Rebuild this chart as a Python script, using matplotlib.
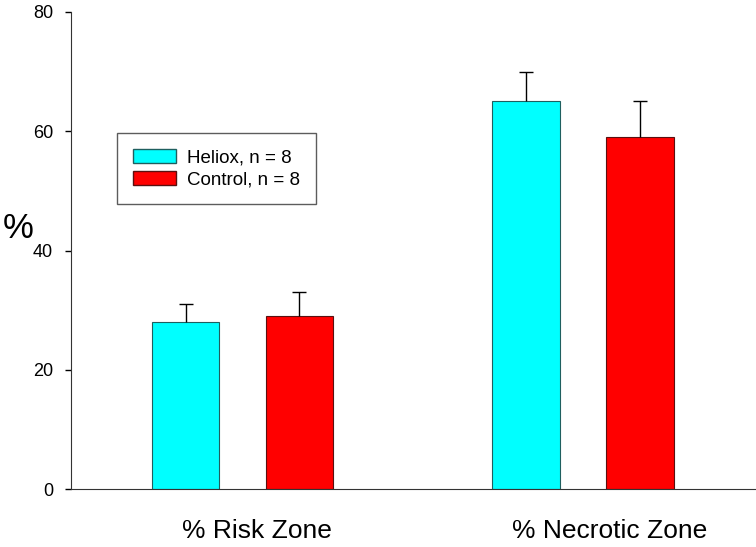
import numpy as np
import matplotlib.pyplot as plt
from matplotlib.patches import Patch

plt.rcParams['font.family'] = ['Liberation Sans', 'DejaVu Sans']

# data
zones = ['% Risk Zone', '% Necrotic Zone']
heliox_mean = [28, 65]
heliox_err = [3, 5]
control_mean = [29, 59]
control_err = [4, 6]
legend_labels = ['Heliox, n = 8', 'Control, n = 8']
y_ticks = [0, 20, 40, 60, 80]

fig = plt.figure(figsize=(7.56, 5.47), dpi=100)
ax = fig.add_axes([71 / 756, 1 - 489 / 547, 1 - 71 / 756, (489 - 12) / 547])

x = np.arange(len(zones))
width = 0.198
offset = 0.167

ax.bar(x - offset, heliox_mean, width, color='#00ffff', edgecolor='#1f5f5f', linewidth=0.8)
ax.bar(x + offset, control_mean, width, color='#ff0000', edgecolor='#5a1010', linewidth=0.8)

# upper error bars only
zeros = [0, 0]
for xs, m, e in [(x - offset, heliox_mean, heliox_err), (x + offset, control_mean, control_err)]:
    eb = ax.errorbar(xs, m, yerr=[zeros, e], fmt='none', ecolor='black',
                     elinewidth=1, capsize=5, capthick=1)
    eb[1][0].set_visible(False)

ax.set_xlim(-0.504, 1.508)
ax.set_ylim(0, 80)
ax.set_yticks(y_ticks)
ax.tick_params(axis='y', direction='out', length=4.3, width=1, pad=8.6, labelsize=13)
ax.set_xticks([])

# category labels under the groups
label_x = [0.043, 1.079]
for lx, z in zip(label_x, zones):
    ax.text(lx, -7.0, z, ha='center', va='center', fontsize=19)

fig.text(18 / 756, 1 - 229 / 547, '%', ha='center', va='center', fontsize=25)

for s in ['top', 'right']:
    ax.spines[s].set_visible(False)
ax.spines['left'].set_color('#333333')
ax.spines['bottom'].set_color('#333333')

handles = [Patch(facecolor='#00ffff', edgecolor='#1f5f5f'),
           Patch(facecolor='#ff0000', edgecolor='#5a1010')]
leg = ax.legend(handles, legend_labels, loc='upper left',
                bbox_to_anchor=((117 - 71) / 685, 1 - (133 - 12) / 477),
                fontsize=13.5, frameon=True, fancybox=False, borderaxespad=0,
                handlelength=2.3, handleheight=0.75, handletextpad=0.6,
                borderpad=0.85, labelspacing=0.25)
leg.get_frame().set_edgecolor('#333333')
leg.get_frame().set_linewidth(1)

fig.savefig('out.png', dpi=100)
